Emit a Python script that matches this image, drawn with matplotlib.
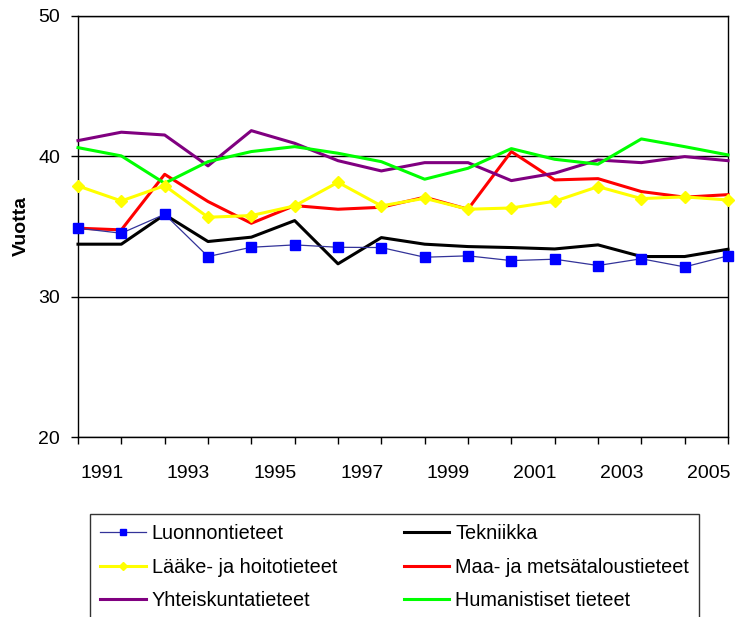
import matplotlib
matplotlib.use("Agg")
import matplotlib.pyplot as plt
from matplotlib.lines import Line2D

plt.rcParams['font.family'] = ['Liberation Sans', 'DejaVu Sans']

n_points = 16
x = list(range(n_points))
tick_labels = ["1991", "1993", "1995", "1997", "1999", "2001", "2003", "2005"]

luonnontieteet = [34.88, 34.52, 35.87, 32.86, 33.52, 33.69, 33.52, 33.50,
                  32.81, 32.91, 32.57, 32.67, 32.22, 32.70, 32.12, 32.91]
tekniikka = [33.74, 33.74, 35.85, 33.93, 34.24, 35.42, 32.34, 34.21,
             33.74, 33.57, 33.50, 33.40, 33.69, 32.86, 32.86, 33.38]
laake = [37.89, 36.82, 37.91, 35.66, 35.78, 36.47, 38.15, 36.47,
         37.01, 36.23, 36.32, 36.80, 37.84, 36.99, 37.11, 36.89]
maa = [34.88, 34.76, 38.72, 36.78, 35.23, 36.49, 36.23, 36.37,
       37.09, 36.23, 40.34, 38.32, 38.41, 37.49, 37.09, 37.27]
yhteis = [41.12, 41.72, 41.52, 39.32, 41.83, 40.93, 39.69, 38.96,
          39.55, 39.55, 38.27, 38.80, 39.74, 39.55, 39.98, 39.69]
human = [40.62, 40.03, 38.08, 39.62, 40.34, 40.69, 40.22, 39.62,
         38.37, 39.15, 40.55, 39.79, 39.44, 41.24, 40.69, 40.10]

fig = plt.figure(figsize=(7.36, 6.17), dpi=100)
ax = fig.add_axes([78/736, 1-437/617, 650/736, 421/617])

lw = 2.2
l_tek, = ax.plot(x, tekniikka, color='black', lw=lw, clip_on=False, zorder=3)
l_maa, = ax.plot(x, maa, color='#FF0000', lw=lw, clip_on=False, zorder=3)
l_yht, = ax.plot(x, yhteis, color='#800080', lw=lw, clip_on=False, zorder=3)
l_hum, = ax.plot(x, human, color='#00FF00', lw=lw, clip_on=False, zorder=3)
l_laa, = ax.plot(x, laake, color='#FFFF00', lw=lw, marker='D', ms=6,
                 mfc='#FFFF00', mec='#FFFF00', clip_on=False, zorder=4)
l_luo, = ax.plot(x, luonnontieteet, color='#333399', lw=0.9, marker='s', ms=7,
                 mfc='#0000FF', mec='#0000FF', clip_on=False, zorder=5)

ax.set_xlim(0, n_points - 1)
ax.set_ylim(20, 50)
ax.set_yticks([20, 30, 40, 50])
ax.yaxis.grid(True, color='black', lw=1)
ax.set_axisbelow(True)

ax.set_xticks(x)
ax.set_xticklabels([])
ax.set_xticks([0.55 + 2*k for k in range(len(tick_labels))], minor=True)
ax.set_xticklabels(tick_labels, minor=True, fontsize=14)
ax.tick_params(axis='x', which='major', length=5, width=1, direction='out')
ax.tick_params(axis='x', which='minor', length=0, pad=20)
ax.tick_params(axis='y', length=5, width=1, labelsize=14, pad=8)
for s in ax.spines.values():
    s.set_color('black')
    s.set_linewidth(1)

ax.set_ylabel('Vuotta', fontsize=14, fontweight='bold', labelpad=6)

handles = [Line2D([], [], color='#333399', lw=0.9, marker='s', ms=5,
                  mfc='#0000FF', mec='#0000FF'),
           Line2D([], [], color='#FFFF00', lw=lw, marker='D', ms=4,
                  mfc='#FFFF00', mec='#FFFF00'),
           Line2D([], [], color='#800080', lw=lw),
           Line2D([], [], color='black', lw=lw),
           Line2D([], [], color='#FF0000', lw=lw),
           Line2D([], [], color='#00FF00', lw=lw)]
labels = ["Luonnontieteet", "Lääke- ja hoitotieteet", "Yhteiskuntatieteet",
          "Tekniikka", "Maa- ja metsätaloustieteet", "Humanistiset tieteet"]

leg = fig.legend(handles, labels, loc='upper left',
                 bbox_to_anchor=(90/736, 1-514/617, (699-90)/736, 0),
                 mode='expand', ncol=2, fontsize=14.3, frameon=True,
                 fancybox=False, edgecolor='black', borderaxespad=0,
                 handlelength=2.3, handletextpad=0.3, labelspacing=0.74,
                 borderpad=0.5, columnspacing=1.0)
leg.get_frame().set_linewidth(1)

fig.savefig('out.png', dpi=100)
